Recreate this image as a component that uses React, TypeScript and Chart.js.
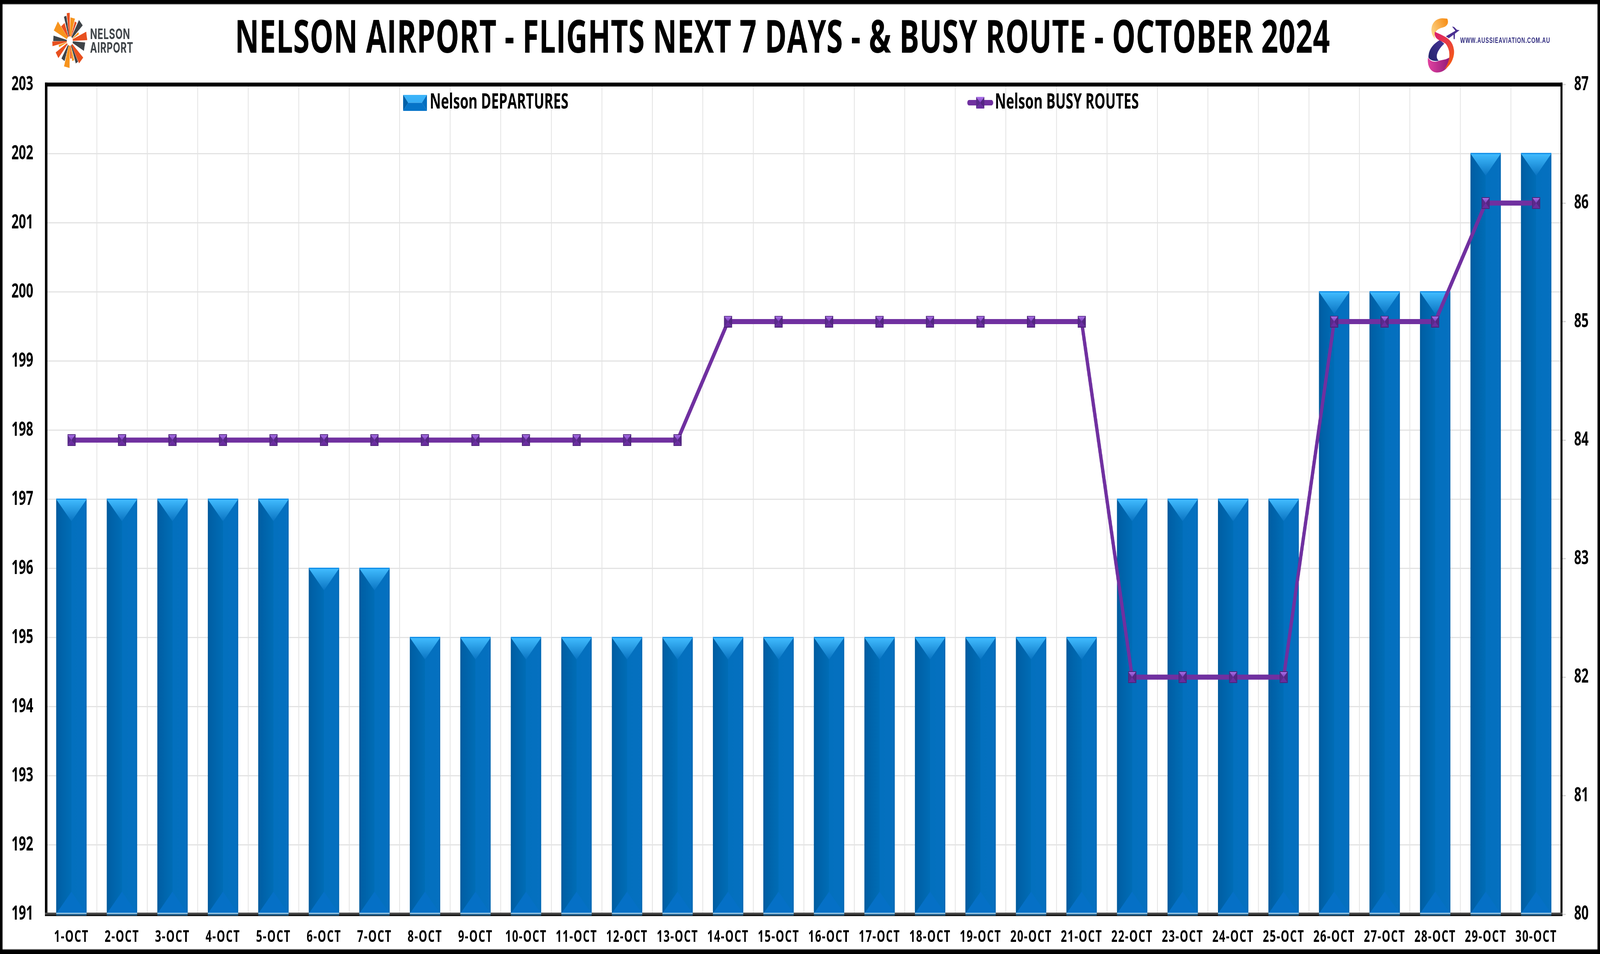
import { useEffect, useRef } from 'react';
import { Chart, registerables } from 'chart.js';

Chart.register(...registerables);

// The chart is laid out on a 6307x2443 canvas, the size of the reference. The browser window
// really measures 4096x2443 (window.innerWidth), so a 1:1 canvas loses its right third. CSS
// therefore fits the canvas to the window: the whole chart stays visible, and it is drawn 1:1
// only in a window that truly is 6307 wide.
const WIDTH = 6307;
const HEIGHT = 2443;
const FONT = '"Open Sans", "Noto Sans", sans-serif';

const titleText = 'NELSON AIRPORT - FLIGHTS NEXT 7 DAYS - & BUSY ROUTE - OCTOBER 2024';
const days = [
  '1-OCT', '2-OCT', '3-OCT', '4-OCT', '5-OCT', '6-OCT', '7-OCT', '8-OCT', '9-OCT', '10-OCT',
  '11-OCT', '12-OCT', '13-OCT', '14-OCT', '15-OCT', '16-OCT', '17-OCT', '18-OCT', '19-OCT', '20-OCT',
  '21-OCT', '22-OCT', '23-OCT', '24-OCT', '25-OCT', '26-OCT', '27-OCT', '28-OCT', '29-OCT', '30-OCT',
];
const departures = [
  197, 197, 197, 197, 197, 196, 196, 195, 195, 195,
  195, 195, 195, 195, 195, 195, 195, 195, 195, 195,
  195, 197, 197, 197, 197, 200, 200, 200, 202, 202,
];
const busyRoutes = [
  84, 84, 84, 84, 84, 84, 84, 84, 84, 84,
  84, 84, 84, 85, 85, 85, 85, 85, 85, 85,
  85, 82, 82, 82, 82, 85, 85, 85, 86, 86,
];
const departuresLabel = 'Nelson DEPARTURES';
const busyRoutesLabel = 'Nelson BUSY ROUTES';
const leftAxisMin = 191;
const leftAxisMax = 203;
const rightAxisMin = 80;
const rightAxisMax = 87;

function poly(ctx: any, pts: number[][], fill: any) {
  ctx.beginPath();
  pts.forEach((p, i) => (i ? ctx.lineTo(p[0], p[1]) : ctx.moveTo(p[0], p[1])));
  ctx.closePath();
  ctx.fillStyle = fill;
  ctx.fill();
}

function pyramid(ctx: any, x: number, y: number, w: number, h: number, d: number, e: number, c: any) {
  const r = x + w;
  const b = y + h;
  poly(ctx, [[x, y], [x + d, y + e], [x + d, b - e], [x, b]], c.left);
  poly(ctx, [[r, y], [r - d, y + e], [r - d, b - e], [r, b]], c.right);
  poly(ctx, [[x, b], [r, b], [r - d, b - e], [x + d, b - e]], c.bottom);
  const g = ctx.createLinearGradient(0, y, 0, y + e);
  g.addColorStop(0, c.top0);
  g.addColorStop(1, c.top1);
  poly(ctx, [[x, y], [r, y], [r - d, y + e], [x + d, y + e]], g);
}

const purple = {
  left: '#5a2a8c', right: '#542683', bottom: '#6a2da0', top0: '#b078ee', top1: '#7a3cb8',
};

function makePointMarker() {
  const c = document.createElement('canvas');
  c.width = 32;
  c.height = 30;
  const ctx = c.getContext('2d') as any;
  pyramid(ctx, 0, 0, 32, 30, 16, 15, purple);
  ctx.strokeStyle = '#4c2279';
  ctx.lineWidth = 2;
  ctx.strokeRect(1, 1, 30, 28);
  return c;
}

function makeBarLegendMarker() {
  const c = document.createElement('canvas');
  c.width = 94;
  c.height = 41;
  const ctx = c.getContext('2d') as any;
  pyramid(ctx, 0, 0, 94, 41, 20, 20.5, {
    left: '#0060a8', right: '#056fc0', bottom: '#0674c8', top0: '#3db6fb', top1: '#38aef5',
  });
  return c;
}

function makeLineLegendMarker() {
  const c = document.createElement('canvas');
  c.width = 102;
  c.height = 32;
  const ctx = c.getContext('2d') as any;
  ctx.strokeStyle = '#7030a0';
  ctx.lineWidth = 14;
  ctx.lineCap = 'round';
  ctx.beginPath();
  ctx.moveTo(7, 16);
  ctx.lineTo(95, 16);
  ctx.stroke();
  pyramid(ctx, 35, 1, 32, 30, 16, 15, purple);
  return c;
}

function drawBars(chart: any) {
  const ctx = chart.ctx;
  const meta = chart.getDatasetMeta(0);
  ctx.save();
  meta.data.forEach((el: any) => {
    const { x, y, width, base } = el;
    const l = x - width / 2;
    const r = x + width / 2;
    const depth = width * 0.47;
    const body = ctx.createLinearGradient(l, 0, r, 0);
    body.addColorStop(0, '#005a9c');
    body.addColorStop(0.08, '#0060a6');
    body.addColorStop(0.5, '#006db6');
    body.addColorStop(0.5, '#0370be');
    body.addColorStop(0.95, '#0570c0');
    body.addColorStop(1, '#0064ae');
    ctx.fillStyle = body;
    ctx.fillRect(l, y, width, base - y);
    const top = ctx.createLinearGradient(0, y, 0, y + depth);
    top.addColorStop(0, '#41bcff');
    top.addColorStop(1, '#0a74c2');
    poly(ctx, [[l, y], [r, y], [x, y + depth]], top);
    ctx.fillStyle = '#0a8ae6';
    ctx.fillRect(l, y - 2, width, 3);
    poly(ctx, [[l, base], [r, base], [x, base - depth]], '#0570c6');
    ctx.fillStyle = '#a9d6f2';
    ctx.fillRect(l, base - 2, width, 3);
    ctx.fillStyle = '#1d5e8e';
    ctx.fillRect(l, base + 1, width, 4);
  });
  ctx.restore();
}

function drawFrame(chart: any) {
  const ctx = chart.ctx;
  const { left, right, top, bottom } = chart.chartArea;
  ctx.save();
  ctx.fillStyle = '#000';
  ctx.fillRect(left - 5, top - 5, right - left + 9, 10);
  ctx.fillRect(left - 5, top - 5, 10, bottom - top + 10);
  ctx.fillRect(right - 4, top - 5, 8, bottom - top + 10);
  ctx.fillStyle = '#4a4a4a';
  ctx.fillRect(left - 5, bottom - 4, right - left + 9, 5);
  ctx.fillStyle = '#141414';
  ctx.fillRect(left - 5, bottom + 1, right - left + 9, 4);
  ctx.restore();
}

const rays = [
  [-5, 72, 12, 'r'], [-16, 66, 10, 'd'], [11, 60, 18, 'o'], [26, 54, 8, 'r'], [43, 64, 20, 'd'],
  [60, 40, 6, 'o'], [79, 68, 22, 'r'], [104, 60, 22, 'd'], [138, 67, 22, 'r'], [153, 62, 10, 'd'],
  [165, 52, 8, 'o'], [174, 45, 6, 'r'], [190, 68, 22, 'o'], [209, 55, 14, 'd'], [234, 62, 18, 'r'],
  [253, 45, 6, 'o'], [264, 69, 12, 'r'], [276, 65, 14, 'd'], [305, 67, 28, 'o'], [327, 50, 16, 'r'],
] as const;
const rayColors: any = { r: '#e8501f', o: '#f7941d', d: '#3f4448' };

function drawNelsonLogo(ctx: any) {
  const cx = 275;
  const cy = 105;
  ctx.save();
  rays.forEach(([deg, len, w, c]) => {
    const a = ((deg as number) * Math.PI) / 180;
    const ux = Math.sin(a);
    const uy = -Math.cos(a);
    const px = -uy;
    const py = ux;
    const inner = 12;
    const hw = (w as number) / 2;
    poly(ctx, [
      [cx + ux * inner - (px * hw) / 5, cy + uy * inner - (py * hw) / 5],
      [cx + ux * inner + (px * hw) / 5, cy + uy * inner + (py * hw) / 5],
      [cx + ux * (len as number) + px * hw, cy + uy * (len as number) + py * hw],
      [cx + ux * (len as number) - px * hw, cy + uy * (len as number) - py * hw],
    ], rayColors[c as string]);
  });
  ctx.fillStyle = '#3f4448';
  ctx.textAlign = 'left';
  ctx.textBaseline = 'alphabetic';
  ctx.font = 'bold 37px Inter, "Open Sans", sans-serif';
  ctx.letterSpacing = '1px';
  ctx.fillText('NELSON', 355, 100);
  ctx.fillText('AIRPORT', 355, 135);
  ctx.letterSpacing = '0px';
  ctx.restore();
}

function drawAussieLogo(ctx: any) {
  const X = (v: number) => 5300 + v / 1.557;
  const Y = (v: number) => v / 2.613;
  const shape = (d: number[][], fill: any) => {
    ctx.beginPath();
    ctx.moveTo(X(d[0][0]), Y(d[0][1]));
    d.slice(1).forEach((s) => {
      if (s.length === 2) ctx.lineTo(X(s[0]), Y(s[1]));
      else ctx.bezierCurveTo(X(s[0]), Y(s[1]), X(s[2]), Y(s[3]), X(s[4]), Y(s[5]));
    });
    ctx.closePath();
    ctx.fillStyle = fill;
    ctx.fill();
  };
  const grad = (x0: number, y0: number, x1: number, y1: number, a: string, b: string) => {
    const g = ctx.createLinearGradient(X(x0), Y(y0), X(x1), Y(y1));
    g.addColorStop(0, a);
    g.addColorStop(1, b);
    return g;
  };
  ctx.save();
  shape([[600, 122], [540, 125, 522, 190, 540, 235], [555, 262], [548, 225, 560, 195, 600, 185], [632, 178, 642, 150, 630, 125]],
    grad(620, 125, 535, 230, '#f7901a', '#fcd58a'));
  shape([[512, 385], [505, 450, 535, 490, 575, 485], [620, 480, 650, 440, 655, 370], [640, 400, 600, 400, 575, 408], [550, 420, 525, 410, 512, 385]],
    grad(515, 430, 650, 420, '#e0409f', '#8e1a78'));
  shape([[585, 268], [535, 300, 515, 340, 515, 385], [522, 402, 555, 415, 578, 405], [555, 385, 565, 340, 612, 292]],
    grad(520, 390, 600, 280, '#25246f', '#433394'));
  shape([[555, 212], [600, 240, 665, 250, 672, 340], [675, 400, 640, 450, 612, 465], [650, 410, 655, 340, 620, 292], [590, 268, 545, 265, 555, 212]],
    grad(560, 230, 660, 400, '#dc1f6a', '#f4571a'));
  shape([[622, 243], [690, 200], [706, 202], [640, 256]], '#4a2f92');
  shape([[660, 178], [672, 180], [695, 205], [678, 222], [676, 262], [670, 262], [668, 220], [680, 205]], '#4a2f92');
  ctx.fillStyle = '#2e2a7e';
  ctx.textAlign = 'left';
  ctx.textBaseline = 'alphabetic';
  ctx.font = 'bold 20px "Liberation Sans", sans-serif';
  ctx.letterSpacing = '1.6px';
  ctx.fillText('WWW.AUSSIEAVIATION.COM.AU', X(710), Y(288));
  ctx.letterSpacing = '0px';
  ctx.restore();
}

const decorPlugin = {
  id: 'decor',
  beforeLayout(chart: any) {
    const legend = chart.legend;
    if (legend && !legend.__patched) {
      legend.__patched = true;
      const fit = legend.fit;
      legend.fit = function () {
        fit.call(this);
        this.height = 0;
      };
    }
  },
  afterLayout(chart: any) {
    const t = chart.titleBlock;
    t.left = 0;
    t.right = 6169;
    if (!t.__patched) {
      t.__patched = true;
      const d = t.draw;
      t.draw = function () {
        chart.ctx.letterSpacing = '1px';
        d.call(this);
        chart.ctx.letterSpacing = '0px';
      };
    }
    const x = chart.scales.x;
    if (!x.__patched) {
      x.__patched = true;
      const d = x.drawLabels;
      x.drawLabels = function (area: any) {
        chart.ctx.letterSpacing = '3px';
        d.call(this, area);
        chart.ctx.letterSpacing = '0px';
      };
    }
    const legend = chart.legend;
    legend.left = 13;
    legend.top = -1356;
    legend.right = WIDTH;
    legend.bottom = HEIGHT;
  },
  beforeDraw(chart: any) {
    const ctx = chart.ctx;
    ctx.save();
    ctx.fillStyle = '#ffffff';
    ctx.fillRect(0, 0, WIDTH, HEIGHT);
    ctx.restore();
  },
  beforeDatasetsDraw(chart: any) {
    drawFrame(chart);
  },
  afterDatasetDraw(chart: any, args: any) {
    if (args.index === 0) drawBars(chart);
  },
  afterDraw(chart: any) {
    const ctx = chart.ctx;
    drawNelsonLogo(ctx);
    drawAussieLogo(ctx);
    ctx.save();
    ctx.fillStyle = '#000';
    ctx.fillRect(0, 0, WIDTH, 10);
    ctx.fillRect(0, 2432, WIDTH, 11);
    ctx.fillRect(0, 0, 10, HEIGHT);
    ctx.fillRect(6297, 0, 10, HEIGHT);
    ctx.fillStyle = '#9a9a9a';
    ctx.fillRect(10, 10, WIDTH - 20, 2);
    ctx.fillRect(10, 2430, WIDTH - 20, 2);
    ctx.restore();
  },
};

export default function App() {
  const ref = useRef<HTMLCanvasElement>(null);

  useEffect(() => {
    document.documentElement.style.margin = '0';
    document.body.style.margin = '0';
    const pointMarker = makePointMarker();
    const barLegend = makeBarLegendMarker();
    const lineLegend = makeLineLegendMarker();
    const tickFont = { family: FONT, size: 50, weight: 'bold' as const };
    const chart = new Chart(ref.current as HTMLCanvasElement, {
      type: 'bar',
      data: {
        labels: days,
        datasets: [
          {
            type: 'bar',
            label: departuresLabel,
            data: departures,
            base: leftAxisMin,
            yAxisID: 'y',
            order: 2,
            backgroundColor: '#0070c0',
            barPercentage: 0.6,
            categoryPercentage: 1,
          },
          {
            type: 'line',
            label: busyRoutesLabel,
            data: busyRoutes,
            yAxisID: 'y2',
            order: 1,
            borderColor: '#7030a0',
            backgroundColor: '#7030a0',
            borderWidth: 13,
            tension: 0,
            pointStyle: pointMarker,
            pointRadius: 15,
            borderJoinStyle: 'round',
          },
        ],
      } as any,
      options: {
        responsive: false,
        animation: false,
        devicePixelRatio: 1,
        layout: { padding: 0 },
        plugins: {
          tooltip: { enabled: false },
          title: {
            display: true,
            text: titleText,
            color: '#000',
            font: { family: FONT, size: 117, weight: 'bold', lineHeight: 1 },
            padding: { top: 43, bottom: 56.5 },
          },
          legend: {
            display: true,
            position: 'top',
            align: 'start',
            labels: {
              color: '#000',
              font: { family: FONT, size: 54, weight: 'bold' },
              usePointStyle: true,
              pointStyleWidth: 62,
              padding: 1592,
              generateLabels(c: any) {
                const items = Chart.defaults.plugins.legend.labels.generateLabels(c);
                items.sort((a: any, b: any) => a.datasetIndex - b.datasetIndex);
                items[0].pointStyle = barLegend;
                items[1].pointStyle = lineLegend;
                return items;
              },
            },
          },
        },
        scales: {
          x: {
            type: 'category',
            offset: true,
            border: { display: false },
            grid: { offset: true, color: '#e3e3e3', lineWidth: 3, drawTicks: false },
            ticks: {
              autoSkip: false,
              maxRotation: 0,
              minRotation: 0,
              padding: 34,
              color: '#000',
              font: { family: FONT, size: 42, weight: 'bold' },
            },
            afterFit(s: any) {
              s.height = 102;
            },
          },
          y: {
            position: 'left',
            min: leftAxisMin,
            max: leftAxisMax,
            border: { display: false },
            grid: { color: '#e3e3e3', lineWidth: 3, drawTicks: false },
            ticks: { stepSize: 1, padding: 51, color: '#000', font: tickFont },
            afterFit(s: any) {
              s.width = 182;
            },
          },
          y2: {
            position: 'right',
            min: rightAxisMin,
            max: rightAxisMax,
            border: { display: false },
            grid: {
              drawOnChartArea: false,
              drawTicks: true,
              tickLength: 17,
              tickColor: '#d4d4d4',
              lineWidth: 3,
            },
            ticks: { stepSize: 1, padding: 33, color: '#000', font: tickFont },
            afterFit(s: any) {
              s.width = 152;
            },
          },
        },
      } as any,
      plugins: [decorPlugin],
    });
    return () => chart.destroy();
  }, []);

  return (
    <div style={{ width: '100vw', height: '100vh', overflow: 'hidden' }}>
      <canvas ref={ref} width={WIDTH} height={HEIGHT} style={{ display: 'block', width: '100vw', height: '100vh' }} />
    </div>
  );
}
